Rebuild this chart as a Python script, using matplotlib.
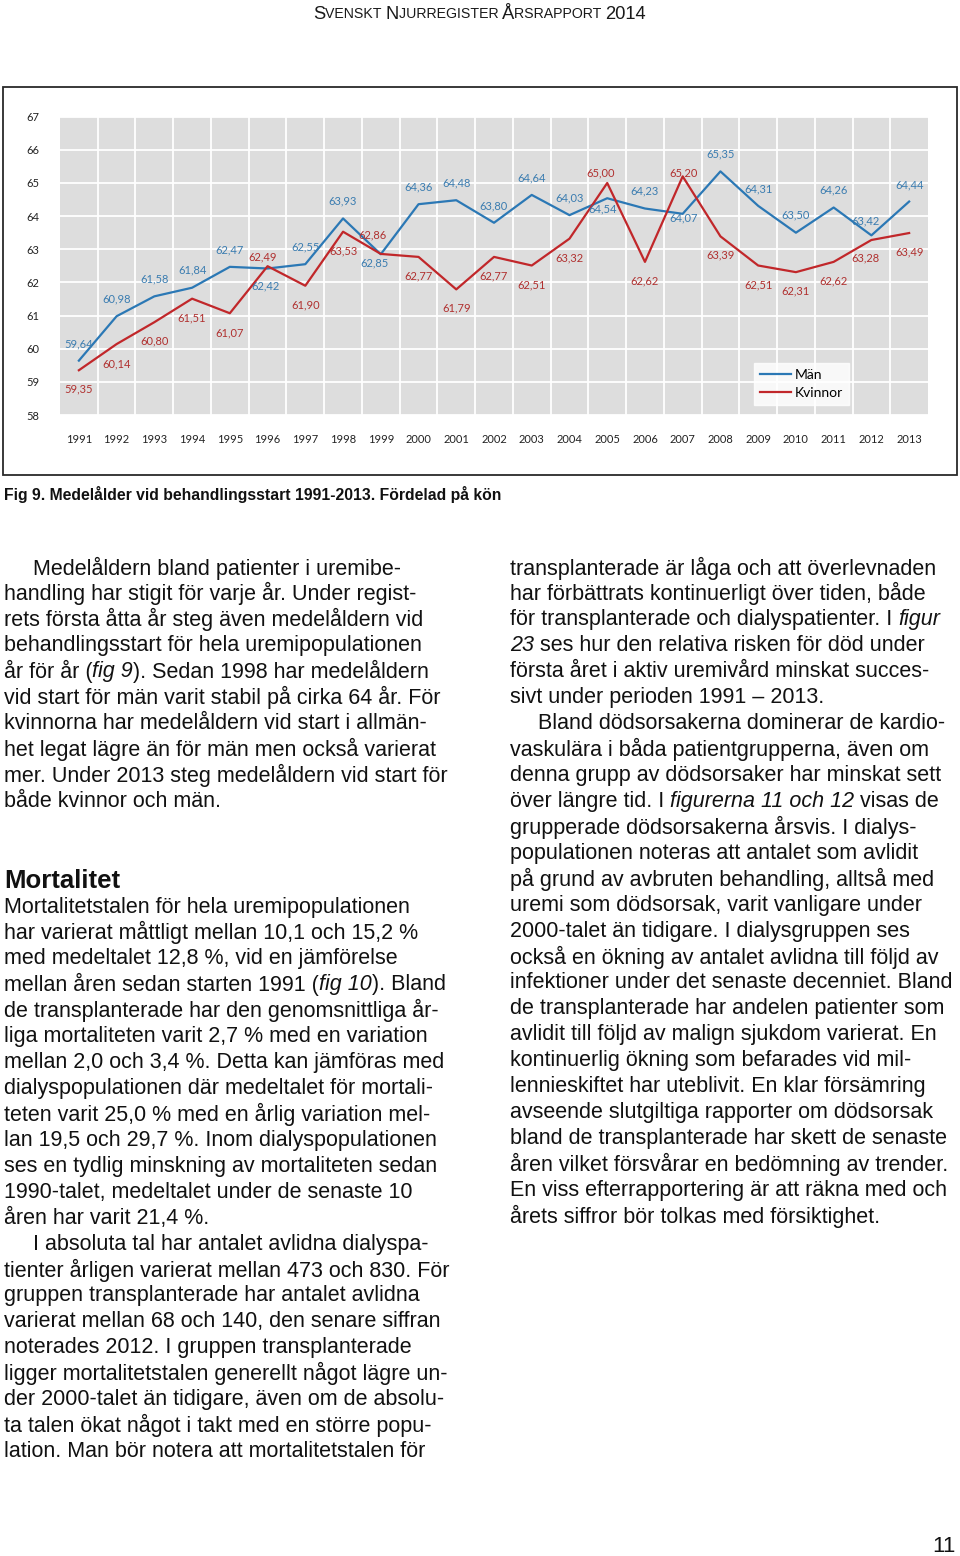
import matplotlib
matplotlib.use("Agg")
import matplotlib.pyplot as plt
from matplotlib.patches import Rectangle

# ---------------- data ----------------
years = [str(y) for y in range(1991, 2014)]
man = [59.64, 60.98, 61.58, 61.84, 62.47, 62.42, 62.55, 63.93, 62.85, 64.36, 64.48, 63.80,
       64.64, 64.03, 64.54, 64.23, 64.07, 65.35, 64.31, 63.50, 64.26, 63.42, 64.44]
kvinnor = [59.35, 60.14, 60.80, 61.51, 61.07, 62.49, 61.90, 63.53, 62.86, 62.77, 61.79, 62.77,
           62.51, 63.32, 65.00, 62.62, 65.20, 63.39, 62.51, 62.31, 62.62, 63.28, 63.49]
yticks = list(range(58, 68))
series_names = ["Män", "Kvinnor"]

# label offsets (pixels; dx, dy with dy up)
man_off = [(0, 17), (0, 17.5), (0, 17.5), (0, 18), (0, 17), (-2, -17), (0, 17.5), (0, 17.5),
           (-6, -9), (0, 17), (0, 17), (0, 17), (0, 17), (0, 17), (-5, -10.5), (0, 17.5),
           (1, -4), (0, 17.5), (0, 17), (0, 18), (0, 17.5), (-6, 14.5), (0, 17)]
kv_off = [(0, -19), (0, -19.5), (0, -19), (0, -19), (0, -19.5), (-4.5, 9), (0, -19), (0, -19),
          (-8, 18.5), (0, -19), (0, -19), (0, -19), (0, -19), (0, -19), (-6.5, 10.5), (0, -19),
          (1.3, 3.5), (0, -18.5), (0, -19), (0, -18.5), (0, -19), (-6, -17.5), (0, -19)]

W, H = 960, 1556
fig = plt.figure(figsize=(W / 100, H / 100), dpi=100)
fig.patch.set_facecolor("white")

# overlay in pixel coordinates
ov = fig.add_axes([0, 0, 1, 1])
ov.set_xlim(0, W)
ov.set_ylim(H, 0)
ov.axis("off")

ov.add_patch(Rectangle((3, 87), 954, 388, fill=False, edgecolor="#2a2a2a", lw=1.3))

# chart axes
L, R, T, B = 60, 928, 116.7, 415
ax = fig.add_axes([L / W, (H - B) / H, (R - L) / W, (B - T) / H])
ax.set_facecolor("#dddddd")
x = list(range(len(years)))
blue, red = "#2b78b5", "#c1272a"
lab_blue, lab_red = "#3a7cb0", "#b0302f"
ax.plot(x, man, color=blue, lw=1.6, label=series_names[0], zorder=3)
ax.plot(x, kvinnor, color=red, lw=1.6, label=series_names[1], zorder=3)
ax.set_xlim(-0.5, len(years) - 0.5)
ax.set_ylim(58, 67)
ax.set_yticks(yticks)
ax.set_yticklabels([str(v) for v in yticks], fontfamily="Lato", fontsize=8, color="#222")
ax.set_xticks(x)
ax.set_xticklabels(years, fontfamily="Lato", fontsize=8, color="#222")
ax.set_xticks([i + 0.5 for i in range(len(years) - 1)], minor=True)
ax.tick_params(axis="both", which="both", length=0)
ax.tick_params(axis="y", pad=15)
ax.tick_params(axis="x", pad=14)
ax.grid(True, axis="y", which="major", color="white", lw=1.3)
ax.grid(True, axis="x", which="minor", color="white", lw=1.3)
ax.grid(False, axis="x", which="major")
ax.set_axisbelow(True)
for s in ax.spines.values():
    s.set_visible(False)

for i, v in enumerate(man):
    ax.annotate(f"{v:.2f}".replace(".", ","), (i, v), xytext=man_off[i], textcoords="offset pixels",
                ha="center", va="center", fontsize=8, fontfamily="Lato", color=lab_blue, zorder=4)
for i, v in enumerate(kvinnor):
    ax.annotate(f"{v:.2f}".replace(".", ","), (i, v), xytext=kv_off[i], textcoords="offset pixels",
                ha="center", va="center", fontsize=8, fontfamily="Lato", color=lab_red, zorder=4)

leg = ax.legend(loc="lower left", bbox_to_anchor=((754 - L) / (R - L), (B - 405) / (B - T)),
                frameon=True, fancybox=False, borderaxespad=0, prop={"family": "Lato", "size": 10},
                handlelength=2.2, handletextpad=0.25, labelspacing=0.4, borderpad=0.45)
leg.get_frame().set_facecolor("white")
leg.get_frame().set_edgecolor("white")

renderer = fig.canvas.get_renderer()
BODY = "Liberation Sans"
NARROW = ["Liberation Sans Narrow", "Liberation Sans"]
FS = 15.5


def draw_line(x0, y, segs, size=FS, family=BODY, color="#111111"):
    xc = x0
    for seg in segs:
        if isinstance(seg, str):
            txt, kw = seg, {}
        else:
            txt, kw = seg
        t = ov.text(xc, y, txt, fontsize=kw.get("size", size), family=family,
                    style=kw.get("style", "normal"), weight=kw.get("weight", "normal"),
                    color=color, va="center", ha="left")
        bb = t.get_window_extent(renderer)
        xc += bb.width


# header (small caps imitation)
hdr = [("S", {"size": 13.2}), ("VENSKT ", {"size": 10.2}), ("N", {"size": 13.2}), ("JURREGISTER ", {"size": 10.2}),
       ("Å", {"size": 13.2}), ("RSRAPPORT ", {"size": 10.2}), ("2014", {"size": 13.2})]
draw_line(313, 14, hdr, family=NARROW, color="#1a1a1a")

ov.text(4, 494, "Fig 9. Medelålder vid behandlingsstart 1991-2013. Fördelad på kön",
        family=NARROW, weight="bold", fontsize=11.3, va="center", ha="left", color="#111")

left1 = [
    (33, ["Medelåldern bland patienter i uremibe-"]),
    (4, ["handling har stigit för varje år. Under regist-"]),
    (4, ["rets första åtta år steg även medelåldern vid"]),
    (4, ["behandlingsstart för hela uremipopulationen"]),
    (4, ["år för år (", ("fig 9", {"style": "italic"}), "). Sedan 1998 har medelåldern"]),
    (4, ["vid start för män varit stabil på cirka 64 år. För"]),
    (4, ["kvinnorna har medelåldern vid start i allmän-"]),
    (4, ["het legat lägre än för män men också varierat"]),
    (4, ["mer. Under 2013 steg medelåldern vid start för"]),
    (4, ["både kvinnor och män."]),
]
step = 25.93
for k, (x0, segs) in enumerate(left1):
    draw_line(x0, 568 + k * step, segs)

ov.text(4, 881, "Mortalitet", family=BODY, weight="bold", fontsize=18.5, va="center", ha="left", color="#111")

left2 = [
    (4, ["Mortalitetstalen för hela uremipopulationen"]),
    (4, ["har varierat måttligt mellan 10,1 och 15,2 %"]),
    (4, ["med medeltalet 12,8 %, vid en jämförelse"]),
    (4, ["mellan åren sedan starten 1991 (", ("fig 10", {"style": "italic"}), "). Bland"]),
    (4, ["de transplanterade har den genomsnittliga år-"]),
    (4, ["liga mortaliteten varit 2,7 % med en variation"]),
    (4, ["mellan 2,0 och 3,4 %. Detta kan jämföras med"]),
    (4, ["dialyspopulationen där medeltalet för mortali-"]),
    (4, ["teten varit 25,0 % med en årlig variation mel-"]),
    (4, ["lan 19,5 och 29,7 %. Inom dialyspopulationen"]),
    (4, ["ses en tydlig minskning av mortaliteten sedan"]),
    (4, ["1990-talet, medeltalet under de senaste 10"]),
    (4, ["åren har varit 21,4 %."]),
    (33, ["I absoluta tal har antalet avlidna dialyspa-"]),
    (4, ["tienter årligen varierat mellan 473 och 830. För"]),
    (4, ["gruppen transplanterade har antalet avlidna"]),
    (4, ["varierat mellan 68 och 140, den senare siffran"]),
    (4, ["noterades 2012. I gruppen transplanterade"]),
    (4, ["ligger mortalitetstalen generellt något lägre un-"]),
    (4, ["der 2000-talet än tidigare, även om de absolu-"]),
    (4, ["ta talen ökat något i takt med en större popu-"]),
    (4, ["lation. Man bör notera att mortalitetstalen för"]),
]
for k, (x0, segs) in enumerate(left2):
    draw_line(x0, 907 + k * step, segs)

right = [
    (510, ["transplanterade är låga och att överlevnaden"]),
    (510, ["har förbättrats kontinuerligt över tiden, både"]),
    (510, ["för transplanterade och dialyspatienter. I ", ("figur", {"style": "italic"})]),
    (510, [("23", {"style": "italic"}), " ses hur den relativa risken för död under"]),
    (510, ["första året i aktiv uremivård minskat succes-"]),
    (510, ["sivt under perioden 1991 – 2013."]),
    (538, ["Bland dödsorsakerna dominerar de kardio-"]),
    (510, ["vaskulära i båda patientgrupperna, även om"]),
    (510, ["denna grupp av dödsorsaker har minskat sett"]),
    (510, ["över längre tid. I ", ("figurerna 11 och 12", {"style": "italic"}), " visas de"]),
    (510, ["grupperade dödsorsakerna årsvis. I dialys-"]),
    (510, ["populationen noteras att antalet som avlidit"]),
    (510, ["på grund av avbruten behandling, alltså med"]),
    (510, ["uremi som dödsorsak, varit vanligare under"]),
    (510, ["2000-talet än tidigare. I dialysgruppen ses"]),
    (510, ["också en ökning av antalet avlidna till följd av"]),
    (510, ["infektioner under det senaste decenniet. Bland"]),
    (510, ["de transplanterade har andelen patienter som"]),
    (510, ["avlidit till följd av malign sjukdom varierat. En"]),
    (510, ["kontinuerlig ökning som befarades vid mil-"]),
    (510, ["lennieskiftet har uteblivit. En klar försämring"]),
    (510, ["avseende slutgiltiga rapporter om dödsorsak"]),
    (510, ["bland de transplanterade har skett de senaste"]),
    (510, ["åren vilket försvårar en bedömning av trender."]),
    (510, ["En viss efterrapportering är att räkna med och"]),
    (510, ["årets siffror bör tolkas med försiktighet."]),
]
for k, (x0, segs) in enumerate(right):
    draw_line(x0, 568 + k * step, segs)

ov.text(956, 1546, "11", family=BODY, fontsize=16, va="center", ha="right", color="#111")

fig.savefig("out.png", dpi=100, facecolor="white")
